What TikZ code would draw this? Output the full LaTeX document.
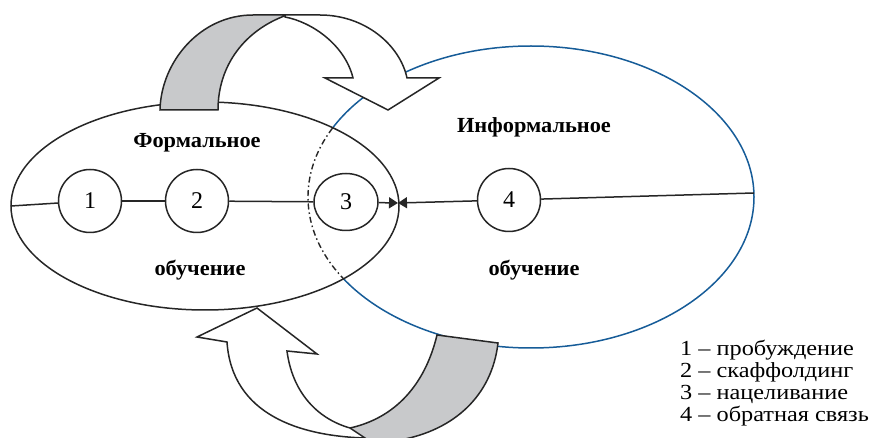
\documentclass[tikz,border=0pt]{standalone}
\usepackage{fontspec}
\setmainfont{Liberation Serif}
\newfontfamily\legfont[FakeStretch=1.13]{Liberation Serif}
\newfontfamily\titfont[FakeStretch=1.04]{Liberation Serif}
\usetikzlibrary{arrows.meta,shapes.geometric}
\definecolor{ublue}{RGB}{22,92,152}
\definecolor{ugray}{RGB}{200,201,203}
\tikzset{
  numnode/.style={draw,line width=1.5pt,black!85,text=black,circle,minimum size=63pt,inner sep=0pt,font=\fontsize{24}{26}\selectfont},
  titletext/.style={font=\titfont\fontsize{21.5}{24}\selectfont\bfseries},
  legendtext/.style={anchor=west,inner sep=0pt,font=\legfont\fontsize{21.5}{24}\selectfont},
  conn/.style={line width=1.5pt,black!85},
  band/.style={line width=1.5pt,line join=miter,black!85},
  tri/.style={-{Triangle[length=9pt,width=11pt]}}
}
\begin{document}
\begin{tikzpicture}[x=1pt,y=-1pt]
\useasboundingbox (0,0) rectangle (873,438);
\clip (0,0) rectangle (873,438);
% blue ellipse: solid part outside the black ellipse
\begin{scope}[even odd rule]
  \clip (-10,-10) rectangle (883,448) (205,206) ellipse [x radius=194,y radius=104];
  \draw[ublue,line width=1.5pt] (531,197) ellipse [x radius=223,y radius=151];
\end{scope}
% dash-dot part inside the black ellipse
\begin{scope}
  \clip (205,206) ellipse [x radius=194,y radius=104];
  \draw[line width=1.4pt,black!85,dash pattern=on 6pt off 3pt on 1.5pt off 3pt] (531,197) ellipse [x radius=223,y radius=151];
\end{scope}
% black ellipse
\draw[line width=1.5pt,black!85] (205,206) ellipse [x radius=194,y radius=104];

% nodes
\node[numnode] (c1) at (90,201) {1};
\node[numnode] (c2) at (197,201) {2};
\node[numnode,ellipse,minimum width=64pt,minimum height=57pt] (c3) at (346,202) {3};
\node[numnode] (c4) at (509,200) {4};
\coordinate (L) at (11,206);
\coordinate (M) at (398,203);
\coordinate (R) at (754,193);

\draw[conn] (L) -- (c1);
\draw[conn] (c1) -- (c2);
\draw[conn] (c2) -- (c3);
\draw[conn,tri] (c3) -- (M);
\draw[conn,tri] (c4) -- (M);
\draw[conn] (c4) -- (R);

% top arrow
\draw[band,fill=ugray] (160,110) .. controls (161,62) and (200,15) .. (253,15) -- (287,15)
   .. controls (245,30) and (218,65) .. (218,110) -- cycle;
\draw[band,fill=white] (285,15) -- (320,15) .. controls (365,15) and (400,45) .. (407,78)
   -- (439,78) -- (388,110) -- (325,78) -- (353,78)
   .. controls (345,45) and (312,22) .. (285,17) -- cycle;

% bottom arrow
\draw[band,fill=ugray] (437,335) -- (498,343) .. controls (492,395) and (455,430) .. (400,440)
   -- (360,440) -- (350,428) .. controls (395,418) and (425,385) .. (437,335) -- cycle;
\draw[band,fill=white] (257,308) -- (317,354) -- (287,351)
   .. controls (292,390) and (315,418) .. (350,428) -- (365,438)
   .. controls (300,436) and (232,415) .. (227,342) -- (197,337) -- cycle;

% titles
\node[titletext] (t1) at (197,143) {Формальное};
\node[titletext] (t2) at (200,270) {обучение};
\node[titletext] (t3) at (534,127) {Информальное};
\node[titletext] (t4) at (534,270) {обучение};

% legend
\node[legendtext] (l1) at (680,350) {1 – пробуждение};
\node[legendtext] (l2) at (680,372) {2 – скаффолдинг};
\node[legendtext] (l3) at (680,394) {3 – нацеливание};
\node[legendtext] (l4) at (680,416) {4 – обратная связь};
\end{tikzpicture}
\end{document}
